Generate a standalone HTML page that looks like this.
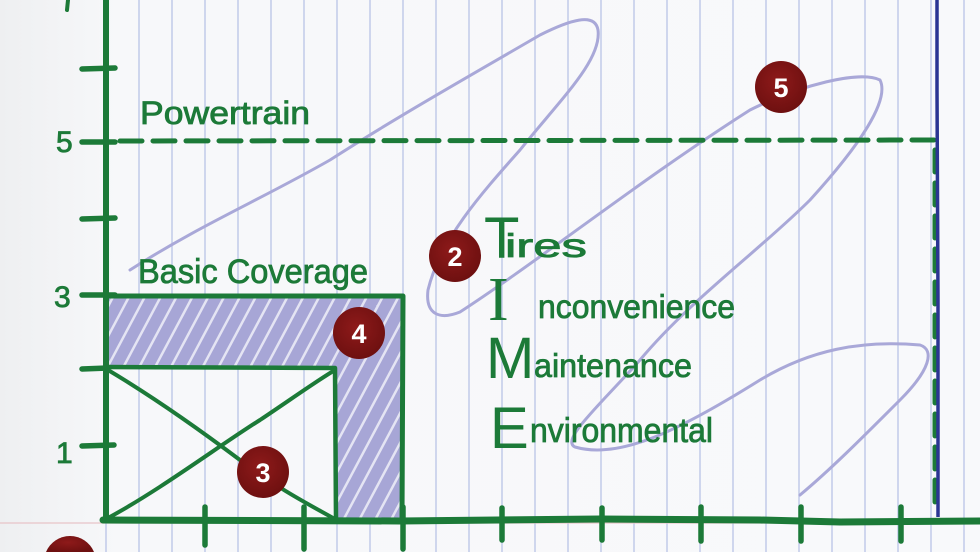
<!DOCTYPE html>
<html><head><meta charset="utf-8"><style>
html,body{margin:0;padding:0;width:980px;height:552px;overflow:hidden;background:#f6f7f9}
svg{display:block;overflow:hidden}
</style></head><body>
<svg width="980" height="552" viewBox="0 0 980 552" xmlns="http://www.w3.org/2000/svg">
<defs>
<linearGradient id="bg" x1="0" x2="1" y1="0" y2="0">
<stop offset="0" stop-color="#eeeff1"/><stop offset="0.12" stop-color="#f7f8fa"/><stop offset="1" stop-color="#f8f9fb"/>
</linearGradient>
<pattern id="hatch" width="14" height="14" patternUnits="userSpaceOnUse" patternTransform="rotate(28)">
<rect width="14" height="14" fill="#a7a6d6"/>
<rect x="0" y="0" width="2.5" height="14" fill="#e4e4f3"/>
</pattern>
<radialGradient id="rd" cx="0.45" cy="0.4" r="0.6">
<stop offset="0" stop-color="#8e1a1a"/><stop offset="1" stop-color="#6e1010"/>
</radialGradient>
</defs>
<rect width="980" height="552" fill="url(#bg)"/>
<g stroke="#b9c3e6" stroke-width="1.3">
<line x1="106" y1="0" x2="106" y2="552"/>
<line x1="139" y1="0" x2="139" y2="552"/>
<line x1="172" y1="0" x2="172" y2="552"/>
<line x1="205" y1="0" x2="205" y2="552"/>
<line x1="238" y1="0" x2="238" y2="552"/>
<line x1="271" y1="0" x2="271" y2="552"/>
<line x1="304" y1="0" x2="304" y2="552"/>
<line x1="337" y1="0" x2="337" y2="552"/>
<line x1="370" y1="0" x2="370" y2="552"/>
<line x1="403" y1="0" x2="403" y2="552"/>
<line x1="436" y1="0" x2="436" y2="552"/>
<line x1="469" y1="0" x2="469" y2="552"/>
<line x1="502" y1="0" x2="502" y2="552"/>
<line x1="535" y1="0" x2="535" y2="552"/>
<line x1="568" y1="0" x2="568" y2="552"/>
<line x1="601" y1="0" x2="601" y2="552"/>
<line x1="634" y1="0" x2="634" y2="552"/>
<line x1="667" y1="0" x2="667" y2="552"/>
<line x1="700" y1="0" x2="700" y2="552"/>
<line x1="733" y1="0" x2="733" y2="552"/>
<line x1="766" y1="0" x2="766" y2="552"/>
<line x1="799" y1="0" x2="799" y2="552"/>
<line x1="832" y1="0" x2="832" y2="552"/>
<line x1="865" y1="0" x2="865" y2="552"/>
<line x1="898" y1="0" x2="898" y2="552"/>
<line x1="931" y1="0" x2="931" y2="552"/>
<line x1="964" y1="0" x2="964" y2="552"/>
</g>
<line x1="0" y1="523" x2="980" y2="523" stroke="#e8c4c8" stroke-width="1.2"/>
<g fill="none" stroke="#a9a8d8" stroke-width="3" stroke-linecap="round" stroke-linejoin="round">
<path d="M130,270 C200,225 260,200 330,160 C400,115 480,70 540,35 C570,20 595,12 598,30 C602,60 560,100 520,150 C480,195 440,240 428,290 C425,315 440,320 460,312 C540,260 640,180 750,110 C800,85 860,70 880,80 C890,100 860,145 810,200 C760,250 690,300 640,360 C600,405 560,440 575,447 C620,460 680,430 760,380 C810,350 860,340 920,345 C935,350 930,370 900,400 C860,440 830,470 800,495"/>
</g>
<path d="M108,296 L402,296 L402,519 L337,519 L337,368 L108,368 Z" fill="url(#hatch)"/>
<g fill="none" stroke="#1c7a38" stroke-linecap="round" stroke-linejoin="round">
<path d="M106,0 L106,520" stroke-width="6"/>
<path d="M103,520 L400,521 L600,519 L760,520 L840,522 L980,521" stroke-width="7"/>
<g stroke-width="5.5">
<path d="M82,69 L115,68"/><path d="M82,142 L115,142"/><path d="M82,219 L115,218"/>
<path d="M82,295 L115,295"/><path d="M82,369 L108,368"/><path d="M82,446 L114,445"/>
<path d="M205,507 L205,545"/><path d="M304,507 L304,549"/><path d="M403,507 L403,549"/>
<path d="M502,508 L502,540"/><path d="M602,508 L602,540"/><path d="M701,507 L701,541"/>
<path d="M801,507 L801,541"/><path d="M901,507 L901,541"/>
</g>
<path d="M68,0 L67,10" stroke-width="4"/>
<path d="M120,141 L935,140 L935,505" stroke-width="5" stroke-dasharray="22,11"/>
<path d="M106,296 L403,296 L402,520" stroke-width="5"/>
<path d="M106,367 L335,368 L336,520" stroke-width="4.5"/>
<path d="M108,370 C150,395 200,430 240,460 C280,490 310,505 333,518" stroke-width="4"/>
<path d="M108,518 C160,490 220,445 260,420 C290,400 315,382 335,370" stroke-width="4"/>
</g>
<path d="M937,0 L937,90 L938,300 L938,517" stroke="#2b3593" stroke-width="3.5" fill="none"/>
<g fill="#1c7a38" stroke="#1c7a38" stroke-width="0.8" font-family="'Liberation Sans', sans-serif">
<text x="56" y="152" font-size="30">5</text>
<text x="54" y="307" font-size="30">3</text>
<text x="56" y="463" font-size="30">1</text>
<text x="140" y="124" font-size="32" textLength="170" lengthAdjust="spacingAndGlyphs">Powertrain</text>
<text x="138" y="283" font-size="34" textLength="230" lengthAdjust="spacingAndGlyphs">Basic Coverage</text>
<text x="505" y="257" font-size="33" textLength="82" lengthAdjust="spacingAndGlyphs">ires</text>
<text x="538" y="318" font-size="33" textLength="197" lengthAdjust="spacingAndGlyphs">nconvenience</text>
<text x="534" y="377" font-size="33" textLength="158" lengthAdjust="spacingAndGlyphs">aintenance</text>
<text x="530" y="442" font-size="34" textLength="183" lengthAdjust="spacingAndGlyphs">nvironmental</text>
</g>
<g fill="#1c7a38" font-family="'Liberation Sans', sans-serif" font-size="58">
<text x="484" y="258">T</text>
<text x="488" y="320" font-family="'Liberation Serif', serif" font-size="62">I</text>
<text x="486" y="378">M</text>
<text x="490" y="448">E</text>
</g>
<g font-family="'Liberation Sans', sans-serif" font-weight="bold" font-size="27" fill="#fff" text-anchor="middle">
<circle cx="455" cy="256" r="26" fill="url(#rd)"/><text x="455" y="266">2</text>
<circle cx="263" cy="472" r="26" fill="url(#rd)"/><text x="263" y="482">3</text>
<circle cx="359" cy="333" r="26" fill="url(#rd)"/><text x="359" y="343">4</text>
<circle cx="781" cy="87" r="26" fill="url(#rd)"/><text x="781" y="97">5</text>
<path d="M46,552 A26,26 0 0 1 94,552 Z" fill="url(#rd)"/>
</g>
</svg>
</body></html>
